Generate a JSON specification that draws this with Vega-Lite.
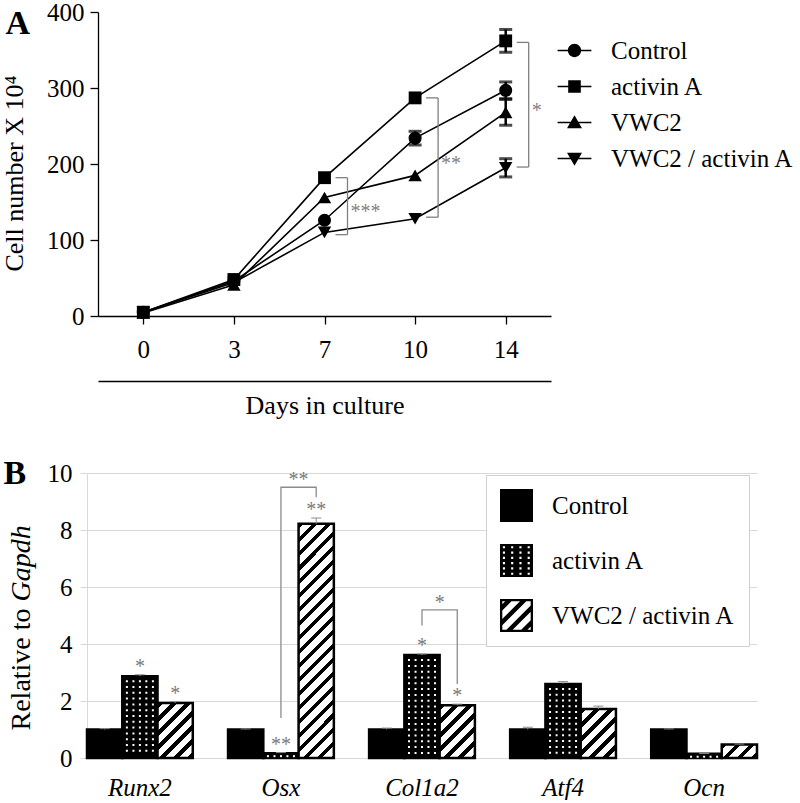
{
 "$schema": "https://vega.github.io/schema/vega-lite/v6.json",
 "padding": {"left": 1, "top": 0, "right": 0, "bottom": 0},
 "background": "white",
 "config": {
  "font": "Liberation Serif, Times New Roman, serif",
  "view": {"stroke": null},
  "text": {"font": "Liberation Serif, Times New Roman, serif"},
  "axis": {"labelFont": "Liberation Serif, Times New Roman, serif", "titleFont": "Liberation Serif, Times New Roman, serif", "labelColor": "black", "titleColor": "black", "titleFontWeight": "normal"},
  "legend": {"labelFont": "Liberation Serif, Times New Roman, serif", "titleFont": "Liberation Serif, Times New Roman, serif", "labelColor": "black", "labelLimit": 400},
  "style": {"guide-label": {"font": "Liberation Serif, Times New Roman, serif"}, "guide-title": {"font": "Liberation Serif, Times New Roman, serif"}}
 },
 "datasets": {
  "growth": [
   {"day": "0", "group": "Control", "value": 5, "err": 0},
   {"day": "0", "group": "activin A", "value": 5, "err": 0},
   {"day": "0", "group": "VWC2", "value": 4, "err": 0},
   {"day": "0", "group": "VWC2 / activin A", "value": 5, "err": 0},
   {"day": "3", "group": "Control", "value": 46, "err": 0},
   {"day": "3", "group": "activin A", "value": 48, "err": 0},
   {"day": "3", "group": "VWC2", "value": 41, "err": 0},
   {"day": "3", "group": "VWC2 / activin A", "value": 44, "err": 0},
   {"day": "7", "group": "Control", "value": 126, "err": 0},
   {"day": "7", "group": "activin A", "value": 182, "err": 0},
   {"day": "7", "group": "VWC2", "value": 156, "err": 0},
   {"day": "7", "group": "VWC2 / activin A", "value": 110, "err": 0},
   {"day": "10", "group": "Control", "value": 234, "err": 9},
   {"day": "10", "group": "activin A", "value": 287, "err": 0},
   {"day": "10", "group": "VWC2", "value": 185, "err": 0},
   {"day": "10", "group": "VWC2 / activin A", "value": 128, "err": 0},
   {"day": "14", "group": "Control", "value": 297, "err": 11},
   {"day": "14", "group": "activin A", "value": 362, "err": 15},
   {"day": "14", "group": "VWC2", "value": 268, "err": 17},
   {"day": "14", "group": "VWC2 / activin A", "value": 195, "err": 12}
  ],
  "bracketsA": [
   {"day": "7", "top": 182, "bottom": 107, "label": "***"},
   {"day": "10", "top": 287, "bottom": 130, "label": "**"},
   {"day": "14", "top": 360, "bottom": 196, "label": "*"}
  ],
  "genes": [
   {"gene": "Runx2", "treat": "Control", "value": 1.0, "err": 0.03, "sig": ""},
   {"gene": "Runx2", "treat": "activin A", "value": 2.87, "err": 0.05, "sig": "*"},
   {"gene": "Runx2", "treat": "VWC2 / activin A", "value": 1.93, "err": 0.05, "sig": "*"},
   {"gene": "Osx", "treat": "Control", "value": 1.0, "err": 0.02, "sig": ""},
   {"gene": "Osx", "treat": "activin A", "value": 0.17, "err": 0.02, "sig": "**"},
   {"gene": "Osx", "treat": "VWC2 / activin A", "value": 8.22, "err": 0.2, "sig": "**"},
   {"gene": "Col1a2", "treat": "Control", "value": 1.0, "err": 0.05, "sig": ""},
   {"gene": "Col1a2", "treat": "activin A", "value": 3.61, "err": 0.04, "sig": "*"},
   {"gene": "Col1a2", "treat": "VWC2 / activin A", "value": 1.85, "err": 0.04, "sig": "*"},
   {"gene": "Atf4", "treat": "Control", "value": 1.0, "err": 0.08, "sig": ""},
   {"gene": "Atf4", "treat": "activin A", "value": 2.6, "err": 0.08, "sig": ""},
   {"gene": "Atf4", "treat": "VWC2 / activin A", "value": 1.72, "err": 0.1, "sig": ""},
   {"gene": "Ocn", "treat": "Control", "value": 1.0, "err": 0.02, "sig": ""},
   {"gene": "Ocn", "treat": "activin A", "value": 0.15, "err": 0.01, "sig": ""},
   {"gene": "Ocn", "treat": "VWC2 / activin A", "value": 0.47, "err": 0.02, "sig": ""}
  ],
  "bracketsB": [
   {"br": "osx", "gene": "Osx", "treat": "activin A", "v": 1.4, "o": 1, "label": ""},
   {"br": "osx", "gene": "Osx", "treat": "activin A", "v": 9.5, "o": 2, "label": "**"},
   {"br": "osx", "gene": "Osx", "treat": "VWC2 / activin A", "v": 9.5, "o": 3, "label": ""},
   {"br": "osx", "gene": "Osx", "treat": "VWC2 / activin A", "v": 9.15, "o": 4, "label": ""},
   {"br": "col", "gene": "Col1a2", "treat": "activin A", "v": 4.65, "o": 1, "label": ""},
   {"br": "col", "gene": "Col1a2", "treat": "activin A", "v": 5.2, "o": 2, "label": "*"},
   {"br": "col", "gene": "Col1a2", "treat": "VWC2 / activin A", "v": 5.2, "o": 3, "label": ""},
   {"br": "col", "gene": "Col1a2", "treat": "VWC2 / activin A", "v": 2.6, "o": 4, "label": ""}
  ]
 },
 "resolve": {"scale": {"shape": "independent"}, "legend": {"shape": "independent"}},
 "spacing": 38,
 "vconcat": [
  {
   "width": 464,
   "height": 304,
   "layer": [
    {
     "layer": [
      {
       "data": {"name": "growth"},
       "mark": {"type": "line", "color": "black", "strokeWidth": 1.6},
       "encoding": {
        "x": {"field": "day", "type": "ordinal", "scale": {"type": "point", "padding": 0.5, "range": [11, 464], "domain": ["0", "3", "7", "10", "14"]},
              "axis": {"title": "A", "titleFontSize": 34, "titleFontWeight": "bold", "titleAngle": 0, "titleAlign": "left", "titleBaseline": "alphabetic", "titleX": -82, "titleY": -283,
                       "labelAngle": 0, "labelFontSize": 25, "labelPadding": 13, "tickSize": 8, "tickColor": "black", "tickWidth": 1.3, "domainColor": "black", "domainWidth": 1.3, "grid": false}},
        "y": {"field": "value", "type": "quantitative", "title": "Cell number X 10⁴", "scale": {"domain": [0, 400], "nice": false},
              "axis": {"offset": -11, "title": "Cell number X 10⁴", "titleFontSize": 26, "titleAngle": -90, "titleAlign": "center", "titleBaseline": "middle", "titleX": -84, "titleY": 161, "values": [0, 100, 200, 300, 400], "labelFontSize": 25, "labelPadding": 6, "tickSize": 8, "tickColor": "black", "tickWidth": 1.3, "domainColor": "black", "domainWidth": 1.3, "grid": false}},
        "detail": {"field": "group"}
       }
      },
      {
       "data": {"name": "growth"},
       "transform": [{"filter": "datum.err > 0"}],
       "mark": {"type": "errorbar", "ticks": {"size": 13, "thickness": 3, "color": "black"}, "thickness": 2.5, "color": "black"},
       "encoding": {
        "x": {"field": "day", "type": "ordinal", "title": "A"},
        "y": {"field": "value", "type": "quantitative", "title": "Cell number X 10⁴"},
        "yError": {"field": "err"}
       }
      },
      {
       "data": {"name": "growth"},
       "transform": [{"filter": "datum.group === 'Control'"}],
       "mark": {"type": "point", "shape": "circle", "filled": true, "color": "black", "opacity": 1, "size": 170},
       "encoding": {"x": {"field": "day", "type": "ordinal", "title": "A"}, "y": {"field": "value", "type": "quantitative", "title": "Cell number X 10⁴"}}
      },
      {
       "data": {"name": "growth"},
       "transform": [{"filter": "datum.group === 'activin A'"}],
       "mark": {"type": "point", "shape": "square", "filled": true, "color": "black", "opacity": 1, "size": 165},
       "encoding": {"x": {"field": "day", "type": "ordinal", "title": "A"}, "y": {"field": "value", "type": "quantitative", "title": "Cell number X 10⁴"}}
      },
      {
       "data": {"name": "growth"},
       "transform": [{"filter": "datum.group === 'VWC2'"}],
       "mark": {"type": "point", "shape": "triangle-up", "filled": true, "color": "black", "opacity": 1, "size": 180},
       "encoding": {"x": {"field": "day", "type": "ordinal", "title": "A"}, "y": {"field": "value", "type": "quantitative", "title": "Cell number X 10⁴"}}
      },
      {
       "data": {"name": "growth"},
       "transform": [{"filter": "datum.group === 'VWC2 / activin A'"}],
       "mark": {"type": "point", "shape": "triangle-down", "filled": true, "color": "black", "opacity": 1, "size": 180},
       "encoding": {"x": {"field": "day", "type": "ordinal", "title": "A"}, "y": {"field": "value", "type": "quantitative", "title": "Cell number X 10⁴"}}
      },
      {
       "data": {"name": "bracketsA"},
       "mark": {"type": "rule", "color": "#7f7f7f", "strokeWidth": 1.3, "xOffset": 23},
       "encoding": {
        "x": {"field": "day", "type": "ordinal", "title": "A"},
        "y": {"field": "top", "type": "quantitative", "title": "Cell number X 10⁴"},
        "y2": {"field": "bottom"}
       }
      },
      {
       "data": {"name": "bracketsA"},
       "mark": {"type": "rule", "color": "#7f7f7f", "strokeWidth": 1.3, "xOffset": 11, "x2Offset": 23},
       "encoding": {
        "x": {"field": "day", "type": "ordinal", "title": "A"},
        "x2": {"field": "day"},
        "y": {"field": "top", "type": "quantitative", "title": "Cell number X 10⁴"}
       }
      },
      {
       "data": {"name": "bracketsA"},
       "mark": {"type": "rule", "color": "#7f7f7f", "strokeWidth": 1.3, "xOffset": 11, "x2Offset": 23},
       "encoding": {
        "x": {"field": "day", "type": "ordinal", "title": "A"},
        "x2": {"field": "day"},
        "y": {"field": "bottom", "type": "quantitative", "title": "Cell number X 10⁴"}
       }
      },
      {
       "data": {"name": "bracketsA"},
       "transform": [{"calculate": "(datum.top + datum.bottom) / 2", "as": "mid"}],
       "mark": {"type": "text", "align": "left", "baseline": "middle", "xOffset": 26, "dy": 6, "fontSize": 20, "color": "#7f7f7f"},
       "encoding": {
        "x": {"field": "day", "type": "ordinal", "title": "A"},
        "y": {"field": "mid", "type": "quantitative", "title": "Cell number X 10⁴"},
        "text": {"field": "label"}
       }
      }
     ]
    },
    {
     "data": {"name": "growth"},
     "transform": [{"filter": "false"}],
     "mark": {"type": "point", "filled": true, "color": "black", "opacity": 1, "strokeWidth": 0},
     "encoding": {
      "shape": {"field": "group", "type": "nominal",
       "scale": {"domain": ["Control", "activin A", "VWC2", "VWC2 / activin A"],
                 "range": ["M-2.6,-0.12H2.6V0.12H-2.6ZM-1.02,0A1.02,1.02,0,1,1,1.02,0A1.02,1.02,0,1,1,-1.02,0Z",
                           "M-2.6,-0.12H2.6V0.12H-2.6ZM-0.97,-0.97H0.97V0.97H-0.97Z",
                           "M-2.6,-0.12H2.6V0.12H-2.6ZM0,-1.12L1.15,0.88H-1.15Z",
                           "M-2.6,-0.12H2.6V0.12H-2.6ZM0,1.12L-1.15,-0.88H1.15Z"]},
       "legend": {"title": null, "orient": "none", "legendX": 475, "legendY": 26, "padding": 0, "labelFontSize": 25, "labelLimit": 400, "symbolSize": 169, "labelOffset": 24, "rowPadding": 10,
                  "symbolStrokeWidth": 0, "symbolFillColor": "black", "symbolOpacity": 1,
                  "encode": {"symbols": {"fill": {"value": "black"}, "strokeWidth": {"value": 0}, "opacity": {"value": 1}}}}
      }
     }
    },
    {
     "data": {"name": "growth"},
     "transform": [{"filter": "false"}],
     "mark": {"type": "point", "opacity": 0},
     "encoding": {
      "x": {"field": "day", "type": "ordinal", "scale": {"type": "point", "padding": 0.5, "range": [11, 464], "domain": ["0", "3", "7", "10", "14"]},
            "axis": {"orient": "bottom", "offset": 65, "labels": false, "ticks": false, "domain": true, "domainColor": "black", "domainWidth": 1.5, "grid": false, "title": "Days in culture", "titleFontSize": 26, "titlePadding": 11}}
     }
    }
   ],
   "resolve": {"scale": {"x": "independent"}, "axis": {"x": "independent"}}
  },
  {
   "width": 670,
   "height": 285,
   "layer": [
    {
     "layer": [
      {
       "data": {"name": "genes"},
       "mark": {"type": "bar", "stroke": "black", "strokeWidth": 2.5},
       "encoding": {
        "x": {"field": "gene", "type": "nominal", "title": "B", "scale": {"domain": ["Runx2", "Osx", "Col1a2", "Atf4", "Ocn"], "paddingInner": 0.25, "paddingOuter": 0},
              "axis": {"title": "B", "titleFontSize": 34, "titleFontWeight": "bold", "titleFontStyle": "normal", "titleAngle": 0, "titleAlign": "left", "titleBaseline": "alphabetic", "titleX": -84, "titleY": -275,
                       "labelAngle": 0, "labelFontSize": 25, "labelFontStyle": "italic", "labelPadding": 17, "ticks": false, "domain": false, "grid": false}},
        "xOffset": {"field": "treat", "type": "nominal", "scale": {"domain": ["Control", "activin A", "VWC2 / activin A"], "paddingInner": 0, "paddingOuter": 0}},
        "y": {"field": "value", "type": "quantitative", "title": "Relative to", "scale": {"domain": [0, 10], "nice": false},
              "axis": {"values": [0, 2, 4, 6, 8, 10], "grid": true, "gridColor": "#d9d9d9", "gridWidth": 1, "domainColor": "#d9d9d9", "tickColor": "#d9d9d9", "tickSize": 7, "labelFontSize": 25, "labelPadding": 8,
                       "title": "Relative to", "titleFontSize": 28, "titleAngle": -90, "titleAlign": "left", "titleBaseline": "middle", "titleX": -66, "titleY": 257}},
        "fill": {
         "condition": [
          {"test": "datum.treat === 'Control'", "value": "black"},
          {"test": "datum.treat === 'activin A'", "value": "black"},
          {"test": "datum.gene === 'Runx2'", "value": {"gradient": "linear", "x1": 0, "y1": 0, "x2": 0.746, "y2": 1.163, "stops": [
            {"offset": 0, "color": "#000"}, {"offset": 0.062, "color": "#000"}, {"offset": 0.062, "color": "#fff"}, {"offset": 0.155, "color": "#fff"},
            {"offset": 0.155, "color": "#000"}, {"offset": 0.217, "color": "#000"}, {"offset": 0.217, "color": "#fff"}, {"offset": 0.31, "color": "#fff"},
            {"offset": 0.31, "color": "#000"}, {"offset": 0.372, "color": "#000"}, {"offset": 0.372, "color": "#fff"}, {"offset": 0.465, "color": "#fff"},
            {"offset": 0.465, "color": "#000"}, {"offset": 0.527, "color": "#000"}, {"offset": 0.527, "color": "#fff"}, {"offset": 0.62, "color": "#fff"},
            {"offset": 0.62, "color": "#000"}, {"offset": 0.682, "color": "#000"}, {"offset": 0.682, "color": "#fff"}, {"offset": 0.775, "color": "#fff"},
            {"offset": 0.775, "color": "#000"}, {"offset": 0.837, "color": "#000"}, {"offset": 0.837, "color": "#fff"}, {"offset": 0.93, "color": "#fff"},
            {"offset": 0.93, "color": "#000"}, {"offset": 0.992, "color": "#000"}, {"offset": 0.992, "color": "#fff"}, {"offset": 1, "color": "#fff"}]}},
          {"test": "datum.gene === 'Osx'", "value": {"gradient": "linear", "x1": 0, "y1": 0, "x2": 0.1695, "y2": 1.125, "stops": [
            {"offset": 0, "color": "#000"}, {"offset": 0.021, "color": "#000"}, {"offset": 0.021, "color": "#fff"}, {"offset": 0.052, "color": "#fff"},
            {"offset": 0.052, "color": "#000"}, {"offset": 0.073, "color": "#000"}, {"offset": 0.073, "color": "#fff"}, {"offset": 0.104, "color": "#fff"},
            {"offset": 0.104, "color": "#000"}, {"offset": 0.125, "color": "#000"}, {"offset": 0.125, "color": "#fff"}, {"offset": 0.156, "color": "#fff"},
            {"offset": 0.156, "color": "#000"}, {"offset": 0.177, "color": "#000"}, {"offset": 0.177, "color": "#fff"}, {"offset": 0.208, "color": "#fff"},
            {"offset": 0.208, "color": "#000"}, {"offset": 0.228, "color": "#000"}, {"offset": 0.228, "color": "#fff"}, {"offset": 0.26, "color": "#fff"},
            {"offset": 0.26, "color": "#000"}, {"offset": 0.28, "color": "#000"}, {"offset": 0.28, "color": "#fff"}, {"offset": 0.311, "color": "#fff"},
            {"offset": 0.311, "color": "#000"}, {"offset": 0.332, "color": "#000"}, {"offset": 0.332, "color": "#fff"}, {"offset": 0.363, "color": "#fff"},
            {"offset": 0.363, "color": "#000"}, {"offset": 0.384, "color": "#000"}, {"offset": 0.384, "color": "#fff"}, {"offset": 0.415, "color": "#fff"},
            {"offset": 0.415, "color": "#000"}, {"offset": 0.436, "color": "#000"}, {"offset": 0.436, "color": "#fff"}, {"offset": 0.467, "color": "#fff"},
            {"offset": 0.467, "color": "#000"}, {"offset": 0.488, "color": "#000"}, {"offset": 0.488, "color": "#fff"}, {"offset": 0.519, "color": "#fff"},
            {"offset": 0.519, "color": "#000"}, {"offset": 0.54, "color": "#000"}, {"offset": 0.54, "color": "#fff"}, {"offset": 0.571, "color": "#fff"},
            {"offset": 0.571, "color": "#000"}, {"offset": 0.592, "color": "#000"}, {"offset": 0.592, "color": "#fff"}, {"offset": 0.623, "color": "#fff"},
            {"offset": 0.623, "color": "#000"}, {"offset": 0.644, "color": "#000"}, {"offset": 0.644, "color": "#fff"}, {"offset": 0.675, "color": "#fff"},
            {"offset": 0.675, "color": "#000"}, {"offset": 0.696, "color": "#000"}, {"offset": 0.696, "color": "#fff"}, {"offset": 0.727, "color": "#fff"},
            {"offset": 0.727, "color": "#000"}, {"offset": 0.747, "color": "#000"}, {"offset": 0.747, "color": "#fff"}, {"offset": 0.779, "color": "#fff"},
            {"offset": 0.779, "color": "#000"}, {"offset": 0.799, "color": "#000"}, {"offset": 0.799, "color": "#fff"}, {"offset": 0.83, "color": "#fff"},
            {"offset": 0.83, "color": "#000"}, {"offset": 0.851, "color": "#000"}, {"offset": 0.851, "color": "#fff"}, {"offset": 0.882, "color": "#fff"},
            {"offset": 0.882, "color": "#000"}, {"offset": 0.903, "color": "#000"}, {"offset": 0.903, "color": "#fff"}, {"offset": 0.934, "color": "#fff"},
            {"offset": 0.934, "color": "#000"}, {"offset": 0.955, "color": "#000"}, {"offset": 0.955, "color": "#fff"}, {"offset": 0.986, "color": "#fff"},
            {"offset": 0.986, "color": "#000"}, {"offset": 1, "color": "#000"}]}},
          {"test": "datum.gene === 'Col1a2'", "value": {"gradient": "linear", "x1": 0, "y1": 0, "x2": 0.772, "y2": 1.153, "stops": [
            {"offset": 0, "color": "#000"}, {"offset": 0.064, "color": "#000"}, {"offset": 0.064, "color": "#fff"}, {"offset": 0.159, "color": "#fff"},
            {"offset": 0.159, "color": "#000"}, {"offset": 0.223, "color": "#000"}, {"offset": 0.223, "color": "#fff"}, {"offset": 0.318, "color": "#fff"},
            {"offset": 0.318, "color": "#000"}, {"offset": 0.382, "color": "#000"}, {"offset": 0.382, "color": "#fff"}, {"offset": 0.477, "color": "#fff"},
            {"offset": 0.477, "color": "#000"}, {"offset": 0.541, "color": "#000"}, {"offset": 0.541, "color": "#fff"}, {"offset": 0.636, "color": "#fff"},
            {"offset": 0.636, "color": "#000"}, {"offset": 0.7, "color": "#000"}, {"offset": 0.7, "color": "#fff"}, {"offset": 0.795, "color": "#fff"},
            {"offset": 0.795, "color": "#000"}, {"offset": 0.859, "color": "#000"}, {"offset": 0.859, "color": "#fff"}, {"offset": 0.954, "color": "#fff"},
            {"offset": 0.954, "color": "#000"}, {"offset": 1, "color": "#000"}]}},
          {"test": "datum.gene === 'Atf4'", "value": {"gradient": "linear", "x1": 0, "y1": 0, "x2": 0.816, "y2": 1.133, "stops": [
            {"offset": 0, "color": "#000"}, {"offset": 0.066, "color": "#000"}, {"offset": 0.066, "color": "#fff"}, {"offset": 0.166, "color": "#fff"},
            {"offset": 0.166, "color": "#000"}, {"offset": 0.232, "color": "#000"}, {"offset": 0.232, "color": "#fff"}, {"offset": 0.332, "color": "#fff"},
            {"offset": 0.332, "color": "#000"}, {"offset": 0.398, "color": "#000"}, {"offset": 0.398, "color": "#fff"}, {"offset": 0.498, "color": "#fff"},
            {"offset": 0.498, "color": "#000"}, {"offset": 0.564, "color": "#000"}, {"offset": 0.564, "color": "#fff"}, {"offset": 0.664, "color": "#fff"},
            {"offset": 0.664, "color": "#000"}, {"offset": 0.73, "color": "#000"}, {"offset": 0.73, "color": "#fff"}, {"offset": 0.83, "color": "#fff"},
            {"offset": 0.83, "color": "#000"}, {"offset": 0.896, "color": "#000"}, {"offset": 0.896, "color": "#fff"}, {"offset": 1, "color": "#fff"}]}}
         ],
         "value": {"gradient": "linear", "x1": 0, "y1": 0, "x2": 1.206, "y2": 0.458, "stops": [
            {"offset": 0, "color": "#000"}, {"offset": 0.115, "color": "#000"}, {"offset": 0.115, "color": "#fff"}, {"offset": 0.287, "color": "#fff"},
            {"offset": 0.287, "color": "#000"}, {"offset": 0.402, "color": "#000"}, {"offset": 0.402, "color": "#fff"}, {"offset": 0.574, "color": "#fff"},
            {"offset": 0.574, "color": "#000"}, {"offset": 0.689, "color": "#000"}, {"offset": 0.689, "color": "#fff"}, {"offset": 0.861, "color": "#fff"},
            {"offset": 0.861, "color": "#000"}, {"offset": 0.976, "color": "#000"}, {"offset": 0.976, "color": "#fff"}, {"offset": 1, "color": "#fff"}]}
        }
       }
      },
      {
       "data": {"name": "genes"},
       "transform": [{"filter": "datum.treat === 'activin A'"}],
       "mark": {"type": "rule", "color": "white", "strokeWidth": 2, "strokeDash": [2, 3.8], "yOffset": 4, "y2Offset": -3},
       "encoding": {"x": {"field": "gene", "type": "nominal", "title": "B", "bandPosition": 0.377}, "y": {"field": "value", "type": "quantitative", "title": "Relative to"}, "y2": {"datum": 0}}
      },
      {
       "data": {"name": "genes"},
       "transform": [{"filter": "datum.treat === 'activin A'"}],
       "mark": {"type": "rule", "color": "white", "strokeWidth": 2, "strokeDash": [2, 3.8], "yOffset": 4, "y2Offset": -3},
       "encoding": {"x": {"field": "gene", "type": "nominal", "title": "B", "bandPosition": 0.439}, "y": {"field": "value", "type": "quantitative", "title": "Relative to"}, "y2": {"datum": 0}}
      },
      {
       "data": {"name": "genes"},
       "transform": [{"filter": "datum.treat === 'activin A'"}],
       "mark": {"type": "rule", "color": "white", "strokeWidth": 2, "strokeDash": [2, 3.8], "yOffset": 4, "y2Offset": -3},
       "encoding": {"x": {"field": "gene", "type": "nominal", "title": "B", "bandPosition": 0.5}, "y": {"field": "value", "type": "quantitative", "title": "Relative to"}, "y2": {"datum": 0}}
      },
      {
       "data": {"name": "genes"},
       "transform": [{"filter": "datum.treat === 'activin A'"}],
       "mark": {"type": "rule", "color": "white", "strokeWidth": 2, "strokeDash": [2, 3.8], "yOffset": 4, "y2Offset": -3},
       "encoding": {"x": {"field": "gene", "type": "nominal", "title": "B", "bandPosition": 0.561}, "y": {"field": "value", "type": "quantitative", "title": "Relative to"}, "y2": {"datum": 0}}
      },
      {
       "data": {"name": "genes"},
       "transform": [{"filter": "datum.treat === 'activin A'"}],
       "mark": {"type": "rule", "color": "white", "strokeWidth": 2, "strokeDash": [2, 3.8], "yOffset": 4, "y2Offset": -3},
       "encoding": {"x": {"field": "gene", "type": "nominal", "title": "B", "bandPosition": 0.623}, "y": {"field": "value", "type": "quantitative", "title": "Relative to"}, "y2": {"datum": 0}}
      },
      {
       "data": {"name": "genes"},
       "transform": [{"calculate": "datum.value + datum.err", "as": "hi"}],
       "mark": {"type": "rule", "color": "#8c8c8c", "strokeWidth": 1},
       "encoding": {
        "x": {"field": "gene", "type": "nominal", "title": "B"},
        "xOffset": {"field": "treat", "type": "nominal", "scale": {"domain": ["Control", "activin A", "VWC2 / activin A"], "paddingInner": 0, "paddingOuter": 0}},
        "y": {"field": "value", "type": "quantitative", "title": "Relative to"},
        "y2": {"field": "hi"}
       }
      },
      {
       "data": {"name": "genes"},
       "transform": [{"calculate": "datum.value + datum.err", "as": "hi"}],
       "mark": {"type": "point", "shape": "M-1,0H1", "size": 100, "stroke": "#8c8c8c", "strokeWidth": 1, "filled": false, "opacity": 1},
       "encoding": {
        "x": {"field": "gene", "type": "nominal", "title": "B"},
        "xOffset": {"field": "treat", "type": "nominal", "scale": {"domain": ["Control", "activin A", "VWC2 / activin A"], "paddingInner": 0, "paddingOuter": 0}},
        "y": {"field": "hi", "type": "quantitative", "title": "Relative to"}
       }
      },
      {
       "data": {"name": "bracketsB"},
       "mark": {"type": "line", "color": "#8c8c8c", "strokeWidth": 1.3},
       "encoding": {
        "x": {"field": "gene", "type": "nominal", "title": "B"},
        "xOffset": {"field": "treat", "type": "nominal", "scale": {"domain": ["Control", "activin A", "VWC2 / activin A"], "paddingInner": 0, "paddingOuter": 0}},
        "y": {"field": "v", "type": "quantitative", "title": "Relative to"},
        "detail": {"field": "br"},
        "order": {"field": "o", "type": "quantitative"}
       }
      },
      {
       "data": {"name": "genes"},
       "transform": [{"calculate": "datum.value + datum.err", "as": "hi"}, {"filter": "datum.sig != ''"}],
       "mark": {"type": "text", "fontSize": 20, "color": "#7a7a7a", "baseline": "alphabetic", "dy": -2},
       "encoding": {
        "x": {"field": "gene", "type": "nominal", "title": "B"},
        "xOffset": {"field": "treat", "type": "nominal", "scale": {"domain": ["Control", "activin A", "VWC2 / activin A"], "paddingInner": 0, "paddingOuter": 0}},
        "y": {"field": "hi", "type": "quantitative", "title": "Relative to"},
        "text": {"field": "sig"}
       }
      },
      {
       "data": {"name": "bracketsB"},
       "transform": [{"filter": "datum.o == 2"}],
       "mark": {"type": "text", "fontSize": 20, "color": "#7a7a7a", "baseline": "alphabetic", "dy": -1},
       "encoding": {
        "x": {"field": "gene", "type": "nominal", "title": "B", "bandPosition": 0.667},
        "y": {"field": "v", "type": "quantitative", "title": "Relative to"},
        "text": {"field": "label"}
       }
      }
     ]
    },
    {
     "data": {"name": "genes"},
     "transform": [{"filter": "false"}],
     "mark": {"type": "point", "opacity": 0},
     "encoding": {
      "y": {"field": "value", "type": "quantitative", "scale": {"domain": [0, 10], "nice": false},
            "axis": {"orient": "left", "title": "Gapdh", "titleFontStyle": "italic", "titleFontSize": 28, "titleAngle": -90, "titleAlign": "left", "titleBaseline": "middle", "titleX": -66, "titleY": 128, "labels": false, "ticks": false, "domain": false, "grid": false}}
     }
    },
    {
     "data": {"name": "genes"},
     "transform": [{"filter": "false"}],
     "mark": {"type": "point", "filled": true, "color": "black", "opacity": 1, "strokeWidth": 0},
     "encoding": {
      "shape": {"field": "treat", "type": "nominal",
       "scale": {"domain": ["Control", "activin A", "VWC2 / activin A"],
                 "range": ["M-1,-1H1V1H-1Z",
                           "M-1,-1H1V1H-1ZM-0.825,-0.865v0.13h0.13v-0.13ZM-0.325,-0.865v0.13h0.13v-0.13ZM0.175,-0.865v0.13h0.13v-0.13ZM0.675,-0.865v0.13h0.13v-0.13ZM-0.825,-0.545v0.13h0.13v-0.13ZM-0.325,-0.545v0.13h0.13v-0.13ZM0.175,-0.545v0.13h0.13v-0.13ZM0.675,-0.545v0.13h0.13v-0.13ZM-0.825,-0.225v0.13h0.13v-0.13ZM-0.325,-0.225v0.13h0.13v-0.13ZM0.175,-0.225v0.13h0.13v-0.13ZM0.675,-0.225v0.13h0.13v-0.13ZM-0.825,0.095v0.13h0.13v-0.13ZM-0.325,0.095v0.13h0.13v-0.13ZM0.175,0.095v0.13h0.13v-0.13ZM0.675,0.095v0.13h0.13v-0.13ZM-0.825,0.415v0.13h0.13v-0.13ZM-0.325,0.415v0.13h0.13v-0.13ZM0.175,0.415v0.13h0.13v-0.13ZM0.675,0.415v0.13h0.13v-0.13ZM-0.825,0.735v0.13h0.13v-0.13ZM-0.325,0.735v0.13h0.13v-0.13ZM0.175,0.735v0.13h0.13v-0.13ZM0.675,0.735v0.13h0.13v-0.13Z",
                           "M-1,-1H1V1H-1ZM-0.86,-0.86V0.86H0.86V-0.86ZM-1,-0.55L-0.55,-1L-0.17,-1L-1,-0.17ZM-1,0.35L0.35,-1L0.73,-1L-1,0.73ZM-0.75,1L1,-0.75L1,-0.37L-0.37,1ZM0.15,1L1,0.15L1,0.53L0.53,1Z"]},
       "legend": {"title": null, "orient": "none", "legendX": 399, "legendY": 2, "padding": 14, "fillColor": "white", "strokeColor": "#cfcfcf", "labelFontSize": 25, "labelLimit": 400, "symbolSize": 1089, "symbolStrokeWidth": 0, "labelOffset": 19, "rowPadding": 22,
                  "encode": {"symbols": {"fill": {"value": "black"}, "strokeWidth": {"value": 0}, "opacity": {"value": 1}}}}
      }
     }
    }
   ],
   "resolve": {"scale": {"y": "independent"}, "axis": {"y": "independent"}}
  }
 ]
}
